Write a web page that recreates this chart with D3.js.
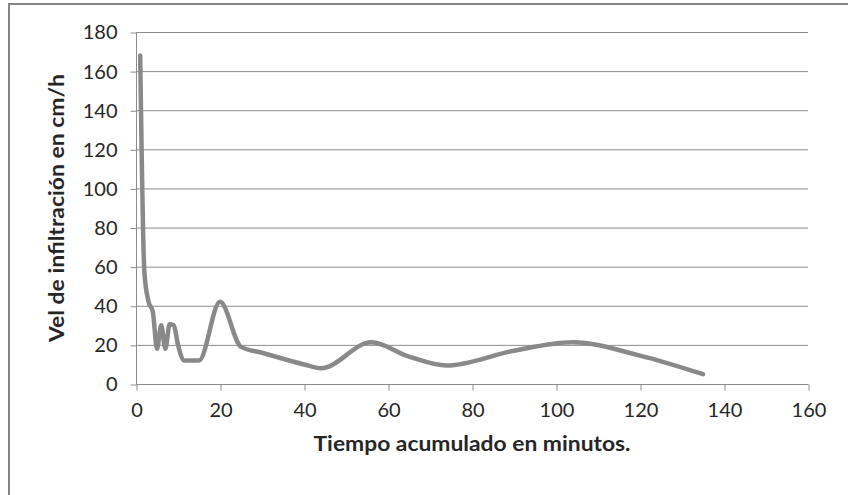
<!DOCTYPE html>
<html><head><meta charset="utf-8">
<script src="https://cdn.jsdelivr.net/npm/d3@7"></script>
<style>
html,body{margin:0;padding:0;background:#fff;}
svg{display:block;}
text{font-family:Lato,"Open Sans",sans-serif;fill:#262626;}
</style></head>
<body>
<svg id="chart" width="848" height="495"></svg>
<script>
const tiempo = [1,2,3,4,5,6,7,8,9,10,11.5,15,20,25,30,40,44,56,65,74,90,104,120,135];
const velocidad = [168,57,42,37,18,30,18,30.5,30,20,12,12,42,19,16,10,8,21.3,14,9.4,17,21.3,14.5,5];
const xTicks = [0,20,40,60,80,100,120,140,160];
const yTicks = [0,20,40,60,80,100,120,140,160,180];
const xTitle = "Tiempo acumulado en minutos.";
const yTitle = "Vel de infiltración en cm/h";

(function(){
const svg = d3.select("#chart");
const pL = 136, pR = 808, pT = 32, pB = 384;
const x = d3.scaleLinear().domain([0,160]).range([pL,pR]);
const y = d3.scaleLinear().domain([0,180]).range([pB,pT]);

// outer border (only top/left visible)
svg.append("rect").attr("x",9).attr("y",4).attr("width",900).attr("height",600)
  .attr("fill","none").attr("stroke","#868686").attr("stroke-width",2);

// gridlines
svg.append("g").selectAll("line").data(yTicks.filter(d=>d>0)).join("line")
  .attr("x1",pL).attr("x2",pR).attr("y1",d=>y(d)+0.5).attr("y2",d=>y(d)+0.5)
  .attr("stroke","#8c8c8c").attr("stroke-width",1);

// y axis
const ya = svg.append("g").attr("transform",`translate(${pL+0.5},0.5)`)
  .call(d3.axisLeft(y).tickValues(yTicks).tickSize(6).tickPadding(13).tickFormat(d3.format("d")));
ya.select(".domain").attr("stroke","#8c8c8c").attr("d",`M0,${pT}V${pB}`);
ya.selectAll(".tick line").attr("stroke","#8c8c8c");
ya.selectAll(".tick text").attr("font-size",20).attr("font-family","Lato").attr("fill","#262626");

// x axis
const xa = svg.append("g").attr("transform",`translate(0.5,${pB+0.5})`)
  .call(d3.axisBottom(x).tickValues(xTicks).tickSize(6).tickPadding(12).tickFormat(d3.format("d")));
xa.select(".domain").attr("stroke","#8c8c8c").attr("d",`M${pL},0H${pR}`);
xa.selectAll(".tick line").attr("stroke","#8c8c8c");
xa.selectAll(".tick text").attr("font-size",20).attr("font-family","Lato").attr("fill","#262626");

// line
const data = tiempo.map((t,i)=>({t, v: velocidad[i]}));
svg.append("path").datum(data)
  .attr("fill","none").attr("stroke","#898989").attr("stroke-width",4.5)
  .attr("stroke-linecap","round").attr("stroke-linejoin","round")
  .attr("d", d3.line().x(d=>x(d.t)).y(d=>y(d.v)).curve(d3.curveMonotoneX));

// titles
svg.append("text").attr("x",(pL+pR)/2).attr("y",451).attr("text-anchor","middle")
  .attr("font-size",20).attr("font-weight","bold").attr("fill","#000")
  .attr("textLength",317).attr("lengthAdjust","spacingAndGlyphs").text(xTitle);
svg.append("text").attr("transform",`translate(64,${(pT+pB)/2}) rotate(-90)`)
  .attr("text-anchor","middle").attr("font-size",20).attr("font-weight","bold").attr("fill","#000")
  .attr("textLength",268).attr("lengthAdjust","spacingAndGlyphs").text(yTitle);
})();
</script>
</body></html>
